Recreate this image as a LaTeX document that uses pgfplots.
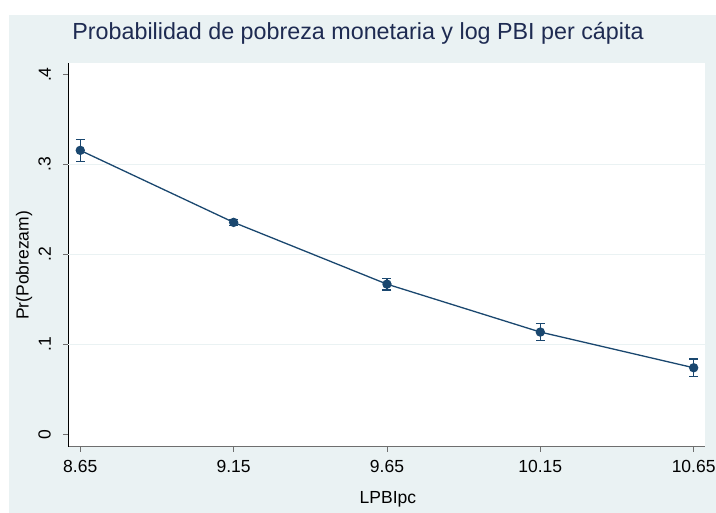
\documentclass[border=0pt]{standalone}
\usepackage{fontspec}
\setmainfont{Liberation Sans}
\usepackage{pgfplots}
\pgfplotsset{compat=1.18}
\definecolor{bg}{HTML}{EAF2F3}
\definecolor{navy}{HTML}{1A476F}
\definecolor{titlec}{HTML}{1E2B52}
\definecolor{axgray}{HTML}{6E6E6E}
\begin{document}
\begin{tikzpicture}[x=1bp,y=1bp]
\path[use as bounding box] (-68.3,-66.3) rectangle (647.7,446.7);
\fill[white] (-68.3,-66.3) rectangle (647.7,446.7);
\fill[bg] (-59.3,-66.3) rectangle (647.7,431.7);
\begin{axis}[
  at={(0,0)}, anchor=south west,
  width=636.7bp, height=384bp, scale only axis,
  xmin=8.611, xmax=10.687, ymin=-0.0138, ymax=0.4133,
  axis background/.style={fill=white},
  axis x line*=bottom, axis y line*=left,
  x axis line style={-, draw=axgray, line width=0.9bp},
  y axis line style={-, draw=black, line width=0.9bp},
  tick align=outside, major tick length=5bp,
  tick style={axgray, line width=0.9bp},
  xtick={8.65,9.15,9.65,10.15,10.65},
  xticklabels={8.65,9.15,9.65,10.15,10.65},
  ytick={0,0.1,0.2,0.3,0.4},
  yticklabels={0,.1,.2,.3,.4},
  extra y ticks={0.1,0.2,0.3},
  extra y tick labels={},
  extra y tick style={grid=major, major tick length=0pt, major grid style={draw=bg, line width=1.2bp}},
  tick label style={font=\fontsize{17.5bp}{20bp}\selectfont, text=black},
  yticklabel style={rotate=90, anchor=south},
  yticklabel shift=9bp,
  xticklabel shift=5bp,
  every axis title shift=0pt,
  title={Probabilidad de pobreza monetaria y log PBI per cápita},
  title style={at={(axis description cs:0.455,1.077)}, anchor=center, font=\fontsize{23.3bp}{28bp}\selectfont, text=titlec},
  xlabel={LPBIpc},
  xlabel style={at={(axis description cs:0.502,-0.138)}, anchor=center, font=\fontsize{17.5bp}{20bp}\selectfont},
  ylabel={Pr(Pobrezam)},
  ylabel style={at={(axis description cs:-0.0696,0.472)}, anchor=center, rotate=0, font=\fontsize{17.5bp}{20bp}\selectfont},
  clip=false,
]
\addplot[navy, line width=1.3bp, mark=*, mark size=4bp,
  mark options={fill=navy, draw=navy},
  error bars/.cd, y dir=both, y explicit,
  error bar style={line width=1.3bp, navy},
  error mark options={rotate=90, mark size=4.5bp, line width=1.3bp, navy}]
  coordinates {
    (8.65,0.3158) +- (0,0.0121)
    (9.15,0.2357) +- (0,0.0035)
    (9.65,0.1670) +- (0,0.0066)
    (10.15,0.1137) +- (0,0.0093)
    (10.65,0.0740) +- (0,0.0099)
  };
\end{axis}
\end{tikzpicture}
\end{document}
